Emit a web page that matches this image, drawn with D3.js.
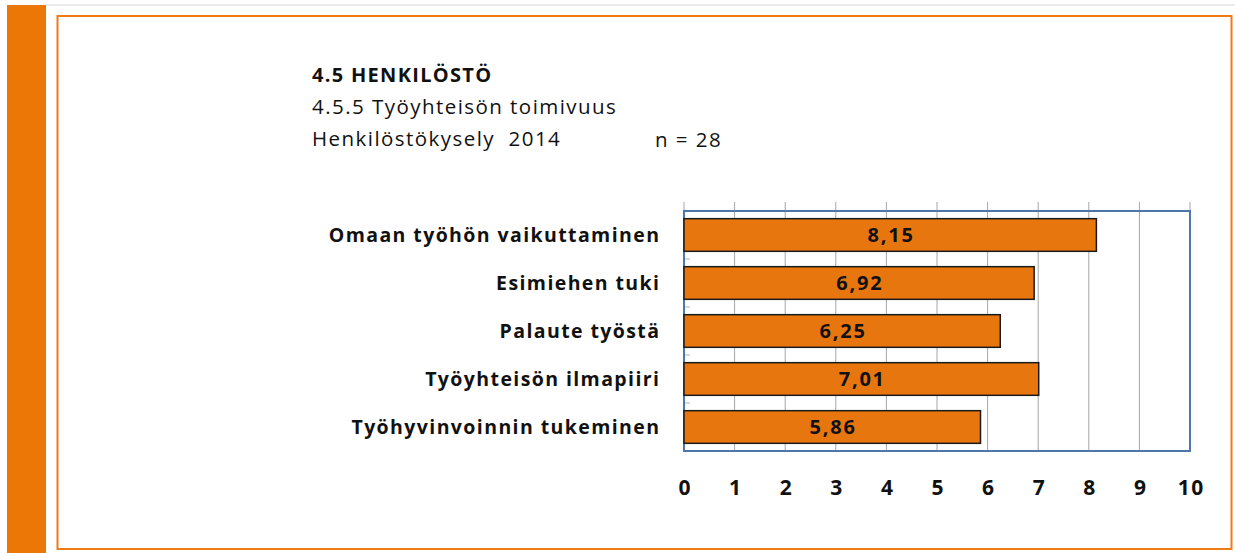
<!DOCTYPE html>
<html><head><meta charset="utf-8">
<script src="https://cdn.jsdelivr.net/npm/d3@7"></script>
<style>
html,body{margin:0;padding:0;background:#fff;}
svg{display:block;}
</style></head>
<body>
<script>
const categories = ["Omaan työhön vaikuttaminen","Esimiehen tuki","Palaute työstä","Työyhteisön ilmapiiri","Työhyvinvoinnin tukeminen"];
const values = [8.15, 6.92, 6.25, 7.01, 5.86];
const valueLabels = ["8,15","6,92","6,25","7,01","5,86"];
const tickValues = [0,1,2,3,4,5,6,7,8,9,10];
const titleLines = ["4.5 HENKILÖSTÖ","4.5.5 Työyhteisön toimivuus","Henkilöstökysely  2014"];
const nLabel = "n = 28";

(function(){
const W = 1235, H = 553;
const svg = d3.select("body").append("svg").attr("width", W).attr("height", H);
const font = "'Open Sans', sans-serif";

// page decorations
svg.append("rect").attr("x",46).attr("y",4).attr("width",W-46).attr("height",2).attr("fill","#e9ebef");
svg.append("rect").attr("x",7).attr("y",5).attr("width",39).attr("height",H-5).attr("fill","#ec7706");
svg.append("rect").attr("x",57.5).attr("y",16).attr("width",1174).attr("height",533)
  .attr("fill","none").attr("stroke","#ee7b14").attr("stroke-width",2);

// titles
const tg = svg.append("g").attr("font-family", font).attr("fill","#111");
tg.append("text").attr("x",312).attr("y",82).attr("font-size",20).attr("font-weight","bold")
  .attr("letter-spacing",1.3).text(titleLines[0]);
tg.append("text").attr("x",312).attr("y",114).attr("font-size",20.5).attr("letter-spacing",1.45).text(titleLines[1]);
tg.append("text").attr("x",312).attr("y",146).attr("font-size",20.5).attr("letter-spacing",1.45).style("white-space","pre").text(titleLines[2]);
tg.append("text").attr("x",655).attr("y",147).attr("font-size",20.5).attr("letter-spacing",1.45).style("white-space","pre").text(nLabel);

// chart
const pL = 684, pR = 1190, pT = 211, pB = 451;
const x = d3.scaleLinear().domain([0,10]).range([pL,pR]);
const y = d3.scaleBand().domain(categories).range([pT,pB]).paddingInner(0.32).paddingOuter(0.16);

// gridlines
svg.append("g").selectAll("line").data(tickValues).join("line")
  .attr("x1",d=>x(d)).attr("x2",d=>x(d)).attr("y1",pT-9).attr("y2",pB)
  .attr("stroke","#a6a6a6").attr("stroke-width",1);

// small category ticks at band boundaries
const bandH = (pB-pT)/categories.length;
svg.append("g").selectAll("line").data(d3.range(1,categories.length+1)).join("line")
  .attr("x1",pL).attr("x2",pL+6)
  .attr("y1",d=>pT + d*bandH).attr("y2",d=>pT + d*bandH)
  .attr("stroke","#a8b4c8").attr("stroke-width",1);

// plot border
svg.append("rect").attr("x",pL).attr("y",pT).attr("width",pR-pL).attr("height",pB-pT)
  .attr("fill","none").attr("stroke","#4f76a8").attr("stroke-width",2);

// bars
svg.append("g").selectAll("rect").data(values).join("rect")
  .attr("x",x(0)).attr("y",(d,i)=>y(categories[i]))
  .attr("width",d=>x(d)-x(0)).attr("height",y.bandwidth())
  .attr("fill","#e8760f").attr("stroke","#1a1a1a").attr("stroke-width",1.5);

// value labels
const vls = 1.8;
svg.append("g").selectAll("text").data(values).join("text")
  .attr("x",d=>(x(0)+x(d))/2 + vls/2).attr("y",(d,i)=>y(categories[i])+y.bandwidth()/2)
  .attr("dy","0.36em").attr("text-anchor","middle").attr("letter-spacing",vls)
  .attr("font-family",font).attr("font-weight","bold").attr("font-size",20).attr("fill","#111")
  .text((d,i)=>valueLabels[i]);

// category labels
const cls = 1.4;
svg.append("g").selectAll("text").data(categories).join("text")
  .attr("x",659 + cls).attr("y",d=>y(d)+y.bandwidth()/2).attr("dy","0.36em")
  .attr("text-anchor","end").attr("font-family",font).attr("font-weight","bold").attr("letter-spacing",cls)
  .attr("font-size",19.5).attr("fill","#111").text(d=>d);

// x axis tick labels
const tls = 1.5;
const ax = d3.axisBottom(x).tickValues(tickValues).tickSize(0).tickPadding(0).tickFormat(d3.format("d"));
const axg = svg.append("g").attr("transform",`translate(${tls/2},${pB+44})`).call(ax);
axg.select(".domain").remove();
axg.selectAll("text").attr("font-family",font).attr("font-weight","bold").attr("font-size",21)
  .attr("letter-spacing",tls).attr("fill","#111").attr("dy","0");
})();
</script>
</body></html>
